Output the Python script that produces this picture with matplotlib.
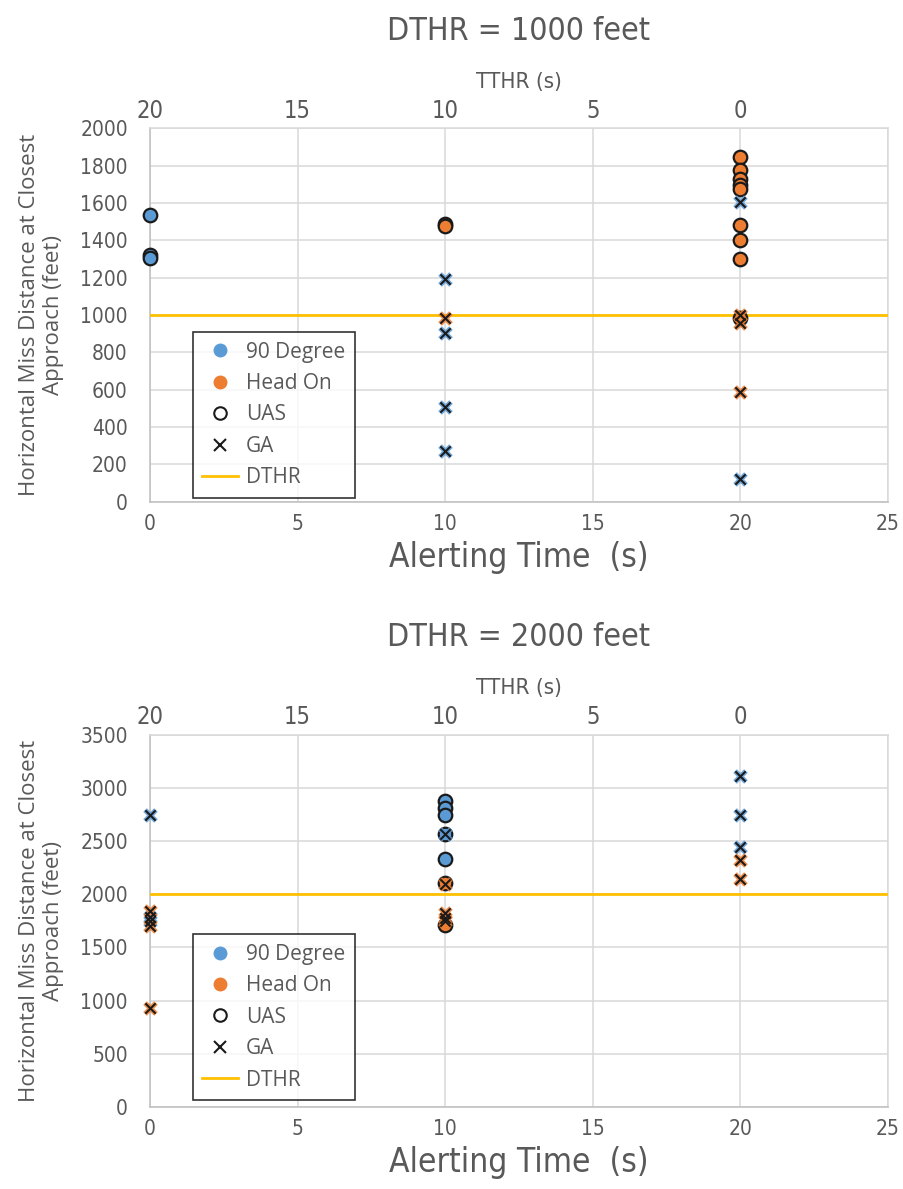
import matplotlib.pyplot as plt
from matplotlib.lines import Line2D
from matplotlib import font_manager

# Alerting time (s) and miss distance (ft) per encounter group
# DTHR = 1000 ft
p1_deg90_uas_t = [0, 0, 0]
p1_deg90_uas_d = [1535, 1320, 1305]
p1_deg90_ga_t = [10, 10, 10, 10, 20, 20]
p1_deg90_ga_d = [1195, 905, 510, 270, 1605, 120]
p1_head_uas_t = [10, 10, 20, 20, 20, 20, 20, 20, 20, 20, 20]
p1_head_uas_d = [1490, 1475, 1845, 1775, 1730, 1695, 1675, 1485, 1400, 1300, 985]
p1_head_ga_t = [10, 20, 20, 20]
p1_head_ga_d = [985, 1000, 960, 590]

# DTHR = 2000 ft
p2_deg90_uas_t = [10, 10, 10, 10, 10]
p2_deg90_uas_d = [2880, 2810, 2750, 2570, 2335]
p2_deg90_ga_t = [0, 0, 0, 10, 20, 20, 20]
p2_deg90_ga_d = [2750, 1790, 1745, 2570, 3110, 2750, 2445]
p2_head_uas_t = [10, 10]
p2_head_uas_d = [2110, 1710]
p2_head_ga_t = [0, 0, 0, 10, 10, 10, 10, 20, 20]
p2_head_ga_d = [1840, 1700, 935, 2100, 1820, 1780, 1750, 2320, 2140]

dthr_values = [1000, 2000]
y_limits = [2000, 3500]
y_steps = [200, 500]
x_ticks = [0, 5, 10, 15, 20, 25]
tthr_ticks = [0, 5, 10, 15, 20]
tthr_labels = ["20", "15", "10", "5", "0"]

BLUE = "#5B9BD5"
ORANGE = "#ED7D31"
GOLD = "#FFC000"
GRID = "#D9D9D9"
TXT = "#595959"
SANS = ["Open Sans", "DejaVu Sans"]

# a condensed face for the numbers and titles, if one is around
cond = [f for f in font_manager.fontManager.ttflist
        if "Condensed" in f.fname or "Narrow" in f.fname]
if cond:
    NARROW = dict(family=cond[0].name, stretch="condensed")
else:
    NARROW = dict(family="Liberation Sans")

fig = plt.figure(figsize=(9.04, 11.89), dpi=100)


def draw_uas(ax, t, d, color):
    ax.scatter(t, d, s=95, c=color, edgecolors="#1a1a1a", linewidths=1.6,
               zorder=4, clip_on=False)


def draw_ga(ax, t, d, color):
    ax.scatter(t, d, s=110, marker="X", c=color, linewidths=0, alpha=0.85,
               zorder=5, clip_on=False)
    ax.scatter(t, d, s=55, marker="x", c="#1a1a1a", linewidths=1.5,
               zorder=6, clip_on=False)


def panel(rect, groups, dthr, ymax, ystep, title, leg_y):
    ax = fig.add_axes(rect)
    ax.set_xlim(0, 25)
    ax.set_ylim(0, ymax)
    ax.set_xticks(x_ticks)
    ax.set_yticks(range(0, ymax + 1, ystep))
    ax.grid(True, color=GRID, lw=1.1)
    ax.set_axisbelow(True)
    for sp in ax.spines.values():
        sp.set_color(GRID)
        sp.set_linewidth(1.1)
    ax.spines["left"].set_color("#BFBFBF")
    ax.spines["bottom"].set_color("#BFBFBF")
    ax.tick_params(length=0, labelsize=15, colors=TXT)
    ax.tick_params(axis="y", pad=16)
    ax.tick_params(axis="x", pad=9)
    for lab in ax.get_xticklabels() + ax.get_yticklabels():
        lab.set(**NARROW)

    ax.axhline(dthr, color=GOLD, lw=2, zorder=3)

    (u90t, u90d), (uhot, uhod), (g90t, g90d), (ghot, ghod) = groups
    draw_uas(ax, u90t, u90d, BLUE)
    draw_uas(ax, uhot, uhod, ORANGE)
    draw_ga(ax, g90t, g90d, BLUE)
    draw_ga(ax, ghot, ghod, ORANGE)

    ax.set_xlabel("Alerting Time  (s)", fontsize=24, color=TXT,
                  labelpad=5, **NARROW)
    ax.set_ylabel("Horizontal Miss Distance at Closest\nApproach (feet)",
                  fontsize=16, color=TXT, family=SANS, labelpad=12,
                  linespacing=1.15)

    top = ax.twiny()
    top.set_xlim(0, 25)
    top.set_xticks(tthr_ticks)
    top.set_xticklabels(tthr_labels, **NARROW)
    top.tick_params(length=0, pad=4, labelsize=17, colors=TXT)
    for sp in top.spines.values():
        sp.set_visible(False)
    top.set_xlabel("TTHR (s)", fontsize=16, color=TXT, labelpad=8, **NARROW)
    top.set_title(title, fontsize=23, color=TXT, pad=23, **NARROW)

    handles = [
        Line2D([], [], ls="", marker="o", ms=9, mfc=BLUE, mec=BLUE),
        Line2D([], [], ls="", marker="o", ms=9, mfc=ORANGE, mec=ORANGE),
        Line2D([], [], ls="", marker="o", ms=9, mfc="none", mec="#1a1a1a",
               mew=1.5),
        Line2D([], [], ls="", marker="x", ms=8, mec="#1a1a1a", mew=1.5),
        Line2D([], [], color=GOLD, lw=2),
    ]
    labels = ["90 Degree", "Head On", "UAS", "GA", "DTHR"]
    leg = ax.legend(handles, labels, loc="lower left",
                    bbox_to_anchor=(0.058, leg_y),
                    frameon=True, fancybox=False, edgecolor="black",
                    handlelength=1.7, handletextpad=0.4, labelspacing=0.5,
                    borderpad=0.45, borderaxespad=0,
                    prop={"family": SANS, "size": 15})
    leg.get_frame().set_linewidth(1.2)
    for t in leg.get_texts():
        t.set_color(TXT)
    leg.set_zorder(10)
    return ax


panel([0.166, 0.578, 0.816, 0.314],
      [(p1_deg90_uas_t, p1_deg90_uas_d), (p1_head_uas_t, p1_head_uas_d),
       (p1_deg90_ga_t, p1_deg90_ga_d), (p1_head_ga_t, p1_head_ga_d)],
      dthr_values[0], y_limits[0], y_steps[0], "DTHR = 1000 feet", 0.011)

panel([0.166, 0.069, 0.816, 0.313],
      [(p2_deg90_uas_t, p2_deg90_uas_d), (p2_head_uas_t, p2_head_uas_d),
       (p2_deg90_ga_t, p2_deg90_ga_d), (p2_head_ga_t, p2_head_ga_d)],
      dthr_values[1], y_limits[1], y_steps[1], "DTHR = 2000 feet", 0.019)

fig.savefig("out.png", dpi=100)
